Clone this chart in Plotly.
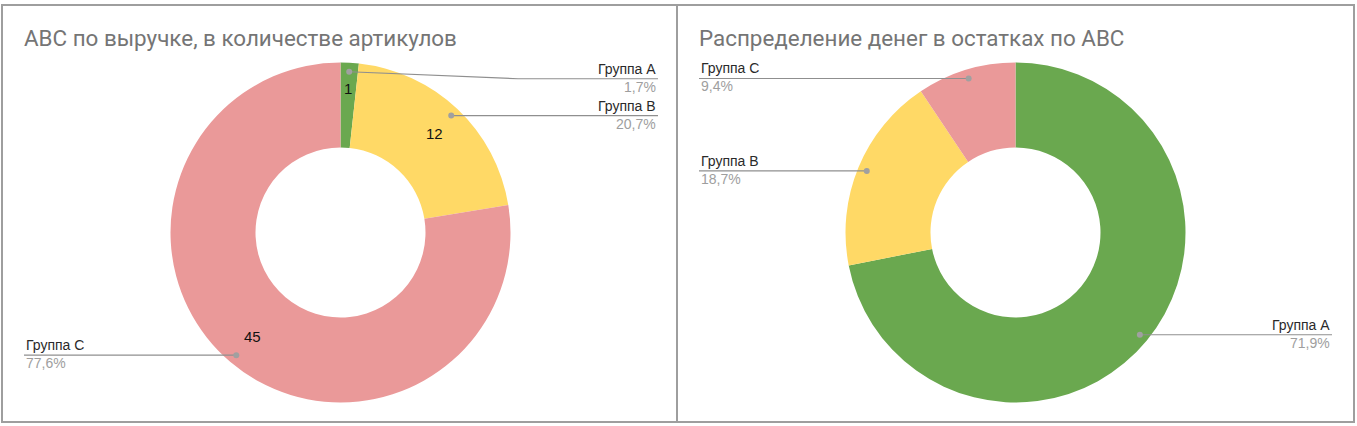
import math
import plotly.graph_objects as go

# ---------------- data ----------------
groups = ["Группа A", "Группа B", "Группа C"]
colors = ["#6aa84f", "#ffd966", "#ea9999"]

title_left = "ABC по выручке, в количестве артикулов"
counts_left = [1, 12, 45]

title_right = "Распределение денег в остатках по АВС"
money_share_right = [71.9, 18.7, 9.4]

# ---------------- layout constants (pixels) ----------------
W, H = 1357, 426
FONT = "Roboto, Arial, sans-serif"
LFONT = "Arial, Liberation Sans, sans-serif"

charts = [
    dict(title=title_left, values=counts_left, show_values=True,
         frame=(2, 5, 677, 422), cx=340.5, cy=232.5, r=170,
         title_x=22, col_left=24, col_right=658, label_shift=[7, 0, 0]),
    dict(title=title_right, values=money_share_right, show_values=False,
         frame=(677, 5, 1354, 422), cx=1015.5, cy=232.5, r=170,
         title_x=697, col_left=699, col_right=1332, label_shift=[0, 0, 0]),
]


def px(x):
    return x / W


def py(y):
    return 1 - y / H


fig = go.Figure()
shapes = []
annotations = []

for ch in charts:
    cx, cy, r = ch["cx"], ch["cy"], ch["r"]
    vals = ch["values"]
    total = float(sum(vals))

    fig.add_trace(go.Pie(
        labels=groups,
        values=vals,
        hole=0.5,
        sort=False,
        direction="clockwise",
        rotation=0,
        marker=dict(colors=colors, line=dict(width=0)),
        textinfo="none",
        domain=dict(x=[px(cx - r), px(cx + r)], y=[py(cy + r), py(cy - r)]),
        showlegend=False,
        hoverinfo="label+value+percent",
    ))

    # frame
    x0, y0, x1, y1 = ch["frame"]
    shapes.append(dict(type="rect", xref="paper", yref="paper",
                       x0=px(x0), x1=px(x1), y0=py(y1), y1=py(y0),
                       line=dict(color="#9e9e9e", width=2), layer="below"))

    # title
    annotations.append(dict(text=ch["title"], xref="paper", yref="paper",
                            x=px(ch["title_x"]), y=py(38), xanchor="left", yanchor="middle",
                            showarrow=False, font=dict(family=FONT, size=22.4, color="#757575")))

    # outside labels with leader lines + inside values
    cum = 0.0
    for i, (g, v) in enumerate(zip(groups, vals)):
        frac = v / total
        mid = (cum + frac / 2) * 2 * math.pi
        cum += frac

        if ch["show_values"]:
            tr = r * 0.8 if frac > 0.05 else r * 0.85
            annotations.append(dict(text=str(v), xref="paper", yref="paper",
                                    x=px(cx + tr * math.sin(mid)), y=py(cy - tr * math.cos(mid)),
                                    xanchor="center", yanchor="middle", showarrow=False,
                                    font=dict(family=LFONT, size=15, color="#111111")))

        dr = r * 0.947
        dx = cx + dr * math.sin(mid)
        dy = cy - dr * math.cos(mid)
        ly = dy + ch["label_shift"][i]
        right = dx > cx
        col = ch["col_right"] if right else ch["col_left"]
        bend = col - 140 if right else col + 140
        if abs(ly - dy) > 0.5:
            path = f"M {px(dx)},{py(dy)} L {px(bend)},{py(ly)} L {px(col)},{py(ly)}"
        else:
            path = f"M {px(dx)},{py(dy)} L {px(col)},{py(ly)}"
        shapes.append(dict(type="path", xref="paper", yref="paper", path=path,
                           line=dict(color="#8f8f8f", width=1.2)))
        shapes.append(dict(type="circle", xref="paper", yref="paper",
                           x0=px(dx - 3), x1=px(dx + 3), y0=py(dy + 3), y1=py(dy - 3),
                           fillcolor="#a0a0a0", line=dict(width=0)))
        anchor = "right" if right else "left"
        annotations.append(dict(text=g, xref="paper", yref="paper",
                                x=px(col), y=py(ly), xanchor=anchor, yanchor="bottom",
                                showarrow=False,
                                font=dict(family=LFONT, size=14, color="#2a2a2a")))
        pct = f"{frac * 100:.1f}%".replace(".", ",")
        annotations.append(dict(text=pct, xref="paper", yref="paper",
                                x=px(col), y=py(ly - 2), xanchor=anchor, yanchor="top",
                                showarrow=False,
                                font=dict(family=LFONT, size=14, color="#9e9e9e")))

fig.update_layout(
    width=W, height=H,
    margin=dict(l=0, r=0, t=0, b=0),
    paper_bgcolor="white",
    plot_bgcolor="white",
    shapes=shapes,
    annotations=annotations,
)

fig.write_html("out.html")
